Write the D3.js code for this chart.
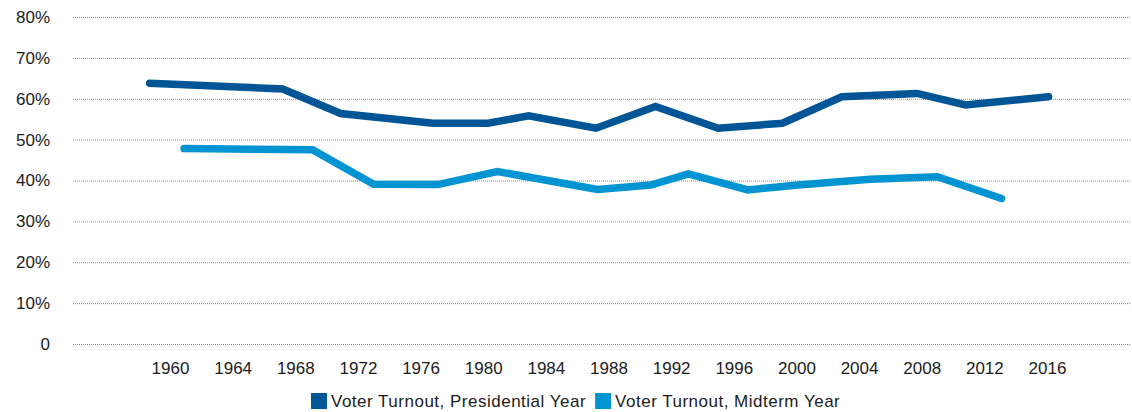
<!DOCTYPE html>
<html>
<head>
<meta charset="utf-8">
<script src="https://cdn.jsdelivr.net/npm/d3@7"></script>
<style>
  body { margin: 0; background: #fff; }
  svg { display: block; font-family: "Liberation Sans", Arial, sans-serif; }
  .grid line { stroke: #8c8c8c; stroke-dasharray: 1,1; }
  .grid text, .xaxis text { fill: #1c1c1c; font-size: 17px; }
  .legend text { fill: #1c1c1c; font-size: 17px; letter-spacing: 0.5px; }
</style>
</head>
<body>
<div id="chart"></div>
<script>

// y axis ticks (percent)
const yTicks = [0, 10, 20, 30, 40, 50, 60, 70, 80]
// x axis labels
const tickYears = [1960, 1964, 1968, 1972, 1976, 1980, 1984, 1988, 1992, 1996, 2000, 2004, 2008, 2012, 2016]

// presidential year turnout (x as drawn)
const presYears = [1958.7, 1967.2, 1970.9, 1976.8, 1980.3, 1982.9, 1987.2, 1991.0, 1995.0, 1999.1, 2002.9, 2007.7, 2010.8, 2016.1]
const presTurnout = [63.8, 62.4, 56.4, 54.0, 54.0, 55.8, 52.8, 58.1, 52.8, 54.0, 60.5, 61.3, 58.5, 60.5]

// midterm year turnout
const midYears = [1960.9, 1969.1, 1973.0, 1977.1, 1980.9, 1987.3, 1990.7, 1993.1, 1996.9, 2000.1, 2004.7, 2009.0, 2013.1]
const midTurnout = [47.8, 47.5, 39.1, 39.0, 42.2, 37.8, 38.9, 41.6, 37.7, 38.9, 40.3, 40.9, 35.6]

const seriesNames = ["Voter Turnout, Presidential Year", "Voter Turnout, Midterm Year"]
const seriesColors = ["#005596", "#0094d2"]

let width = 1132
let height = 412
let gridLeft = 73
let gridRight = 1130

let svg = d3.select("#chart").append("svg")
  .attr("width", width)
  .attr("height", height)

let x = d3.scaleLinear()
  .domain([1960, 2016])
  .range([170, 1047])

let y = d3.scaleLinear()
  .domain([0, 80])
  .range([344, 17])

// gridlines + y labels
let grid = svg.append("g")
  .attr("class", "grid")
  .attr("transform", `translate(${gridLeft},0)`)
  .call(d3.axisLeft(y)
    .tickValues(yTicks)
    .tickSize(-(gridRight - gridLeft))
    .tickPadding(23)
    .tickFormat(d => d === 0 ? "0" : d + "%"))

grid.select(".domain").remove()

// x labels
let xaxis = svg.append("g")
  .attr("class", "xaxis")
  .attr("transform", `translate(0,${y(0)})`)
  .call(d3.axisBottom(x)
    .tickValues(tickYears)
    .tickSize(0)
    .tickPadding(18)
    .tickFormat(d3.format("d")))

xaxis.select(".domain").remove()

let line = d3.line()
  .x(d => x(d[0]))
  .y(d => y(d[1]))

let series = [
  d3.zip(presYears, presTurnout),
  d3.zip(midYears, midTurnout)
]

svg.append("g")
  .selectAll("path")
  .data(series)
  .join("path")
  .attr("d", line)
  .attr("fill", "none")
  .attr("stroke", (d, i) => seriesColors[i])
  .attr("stroke-width", 7.5)
  .attr("stroke-linecap", "round")
  .attr("stroke-linejoin", "miter")

// legend
let legend = svg.append("g")
  .attr("class", "legend")
  .attr("transform", "translate(311,393)")

let offset = 0
seriesNames.forEach((name, i) => {
  let item = legend.append("g").attr("transform", `translate(${offset},0)`)
  item.append("rect")
    .attr("width", 16)
    .attr("height", 16)
    .attr("fill", seriesColors[i])
  let t = item.append("text")
    .attr("x", 20)
    .attr("y", 8)
    .attr("dy", "0.35em")
    .text(name)
  offset += 20 + t.node().getComputedTextLength() + 9
})

</script>
</body>
</html>
